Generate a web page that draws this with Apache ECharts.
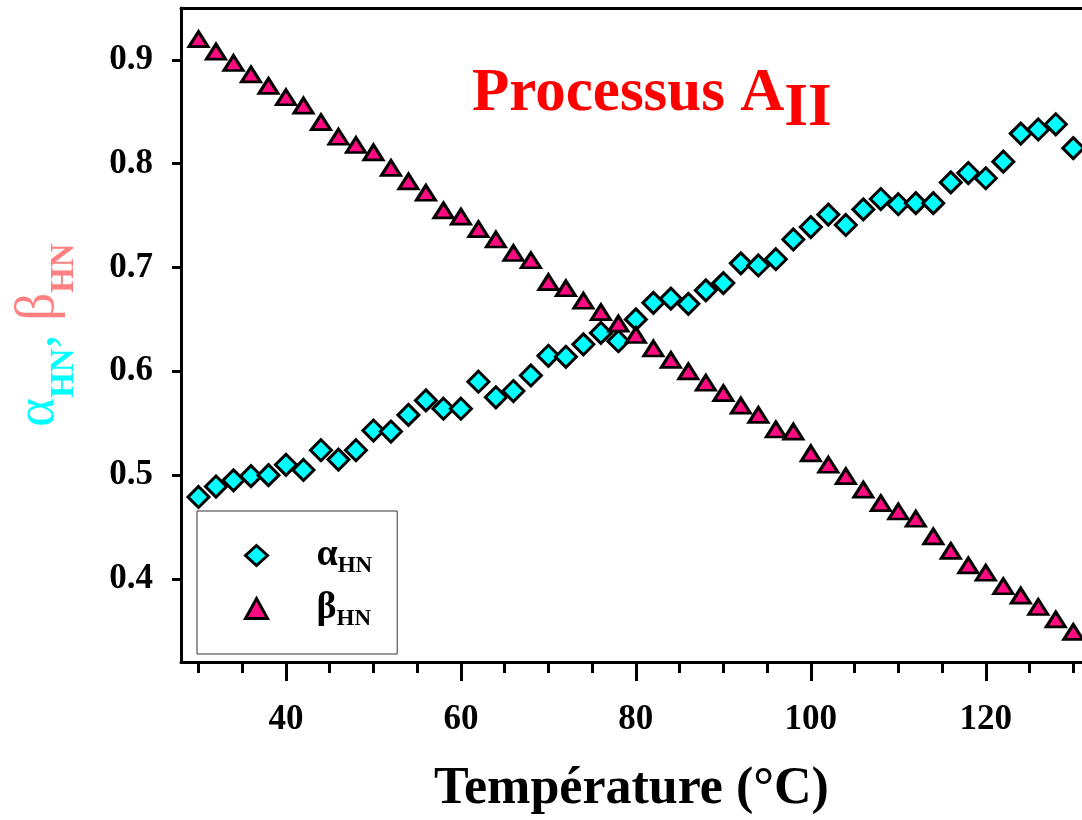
<!DOCTYPE html>
<html><head><meta charset="utf-8">
<script src="https://cdn.jsdelivr.net/npm/echarts@6/dist/echarts.min.js"></script>
<style>html,body{margin:0;padding:0;background:#fff}#c{width:1082px;height:820px}</style>
</head><body><div id="c"></div>
<script>
const temps = [30,32,34,36,38,40,42,44,46,48,50,52,54,56,58,60,62,64,66,68,70,72,74,76,78,80,82,84,86,88,90,92,94,96,98,100,102,104,106,108,110,112,114,116,118,120,122,124,126,128,130];
const alphaHN = [0.479,0.489,0.495,0.499,0.500,0.510,0.505,0.524,0.515,0.524,0.543,0.542,0.558,0.572,0.564,0.564,0.590,0.575,0.581,0.596,0.615,0.614,0.626,0.637,0.629,0.650,0.666,0.670,0.665,0.678,0.685,0.704,0.702,0.708,0.727,0.739,0.751,0.741,0.756,0.766,0.761,0.762,0.762,0.782,0.791,0.786,0.802,0.829,0.833,0.838,0.815];
const betaHN = [0.920,0.908,0.897,0.886,0.875,0.864,0.856,0.840,0.826,0.818,0.811,0.796,0.783,0.772,0.755,0.749,0.737,0.727,0.714,0.707,0.686,0.680,0.668,0.657,0.646,0.635,0.622,0.611,0.600,0.589,0.579,0.567,0.558,0.544,0.542,0.521,0.510,0.499,0.486,0.473,0.465,0.458,0.441,0.427,0.413,0.406,0.393,0.384,0.373,0.361,0.349];
const xMajorTicks = [40,60,80,100,120];
const xMinorTicks = [30,35,40,45,50,55,60,65,70,75,80,85,90,95,100,105,110,115,120,125,130];
const yTicks = [0.4,0.5,0.6,0.7,0.8,0.9];
const seriesNames = ['αHN','βHN'];

const FONT = '"Liberation Serif","Times New Roman",serif';
const chart = echarts.init(document.getElementById('c'), null, {renderer:'canvas'});
const toPairs = (xs, ys) => xs.map((x,i)=>[x, ys[i]]);
const markerStyle = (fill) => ({color: fill, opacity:1, borderColor:'#000', borderWidth:3});

chart.setOption({
  backgroundColor:'#fff',
  animation:false,
  title:{
    text:'{m|Processus A}{s|II}',
    left:467, top:59,
    textStyle:{
      rich:{
        m:{fontFamily:FONT, fontWeight:'bold', fontSize:61, color:'#FF0000', lineHeight:60, verticalAlign:'middle'},
        s:{fontFamily:FONT, fontWeight:'bold', fontSize:61, color:'#FF0000', lineHeight:60, verticalAlign:'middle', padding:[30,0,0,0]}
      }
    }
  },
  grid:{left:181, right:0, top:8, bottom:158, containLabel:false, outerBoundsMode:'none'},
  legend:{
    orient:'vertical', left:197, top:511,
    itemWidth:22, itemHeight:20, itemGap:8,
    padding:[22,25,23,47],
    borderColor:'#333', borderWidth:1,
    itemStyle:{borderColor:'#000', borderWidth:3, opacity:1},
    data: seriesNames,
    formatter: n => '{a|' + n[0] + '}{s|' + n.slice(1) + '}',
    textStyle:{
      rich:{
        a:{fontFamily:FONT, fontWeight:'bold', fontSize:38, color:'#000', lineHeight:40, verticalAlign:'middle', padding:[0,0,0,44]},
        s:{fontFamily:FONT, fontWeight:'bold', fontSize:23, color:'#000', lineHeight:24, verticalAlign:'middle', padding:[22,0,0,0]}
      }
    }
  },
  xAxis:[
    {type:'value', position:'bottom', min:28, max:131,
     axisLine:{show:true, lineStyle:{color:'#000', width:3}},
     axisTick:{show:true, customValues:xMajorTicks, length:19, lineStyle:{color:'#000', width:3}},
     axisLabel:{customValues:xMajorTicks, fontFamily:FONT, fontWeight:'bold', fontSize:35, color:'#000', margin:40},
     splitLine:{show:false},
     name:'Température (°C)', nameLocation:'middle', nameGap:102,
     nameTextStyle:{fontFamily:FONT, fontWeight:'bold', fontSize:52, color:'#000'}
    },
    {type:'value', position:'bottom', min:28, max:131,
     axisLine:{show:false},
     axisTick:{show:true, customValues:xMinorTicks, length:11, lineStyle:{color:'#000', width:3}},
     axisLabel:{show:false}, splitLine:{show:false}
    },
    {type:'value', position:'top', min:28, max:131,
     axisLine:{show:true, lineStyle:{color:'#000', width:3}},
     axisTick:{show:false}, axisLabel:{show:false}, splitLine:{show:false}
    }
  ],
  yAxis:{
    type:'value', min:0.32, max:0.95,
    axisLine:{show:true, lineStyle:{color:'#000', width:3}},
    axisTick:{show:true, customValues:yTicks, length:9, lineStyle:{color:'#000', width:3}},
    axisLabel:{customValues:yTicks, formatter:v=>v.toFixed(1), fontFamily:FONT, fontWeight:'bold', fontSize:35, color:'#000', margin:28},
    splitLine:{show:false},
    name:'{a|α}{as|HN}{a|, }{b|β}{bs|HN}',
    nameLocation:'middle', nameRotate:90, nameGap:112,
    nameTextStyle:{
      rich:{
        a:{fontFamily:FONT, fontSize:55, color:'#00FFFF', lineHeight:60, verticalAlign:'middle'},
        as:{fontFamily:FONT, fontWeight:'bold', fontSize:33, color:'#00FFFF', lineHeight:35, verticalAlign:'middle', padding:[51,0,0,0]},
        b:{fontFamily:FONT, fontSize:55, color:'#FF8080', lineHeight:60, verticalAlign:'middle'},
        bs:{fontFamily:FONT, fontWeight:'bold', fontSize:33, color:'#FF8080', lineHeight:35, verticalAlign:'middle', padding:[51,0,0,0]}
      }
    }
  },
  series:[
    {name:seriesNames[0], type:'scatter', xAxisIndex:0, yAxisIndex:0,
     symbol:'diamond', symbolSize:21, itemStyle:markerStyle('#00FFFF'),
     data:toPairs(temps, alphaHN)},
    {name:seriesNames[1], type:'scatter', xAxisIndex:0, yAxisIndex:0,
     symbol:'triangle', symbolSize:[19,15], itemStyle:markerStyle('#FF0A80'),
     data:toPairs(temps, betaHN)}
  ]
});
</script>
</body></html>
